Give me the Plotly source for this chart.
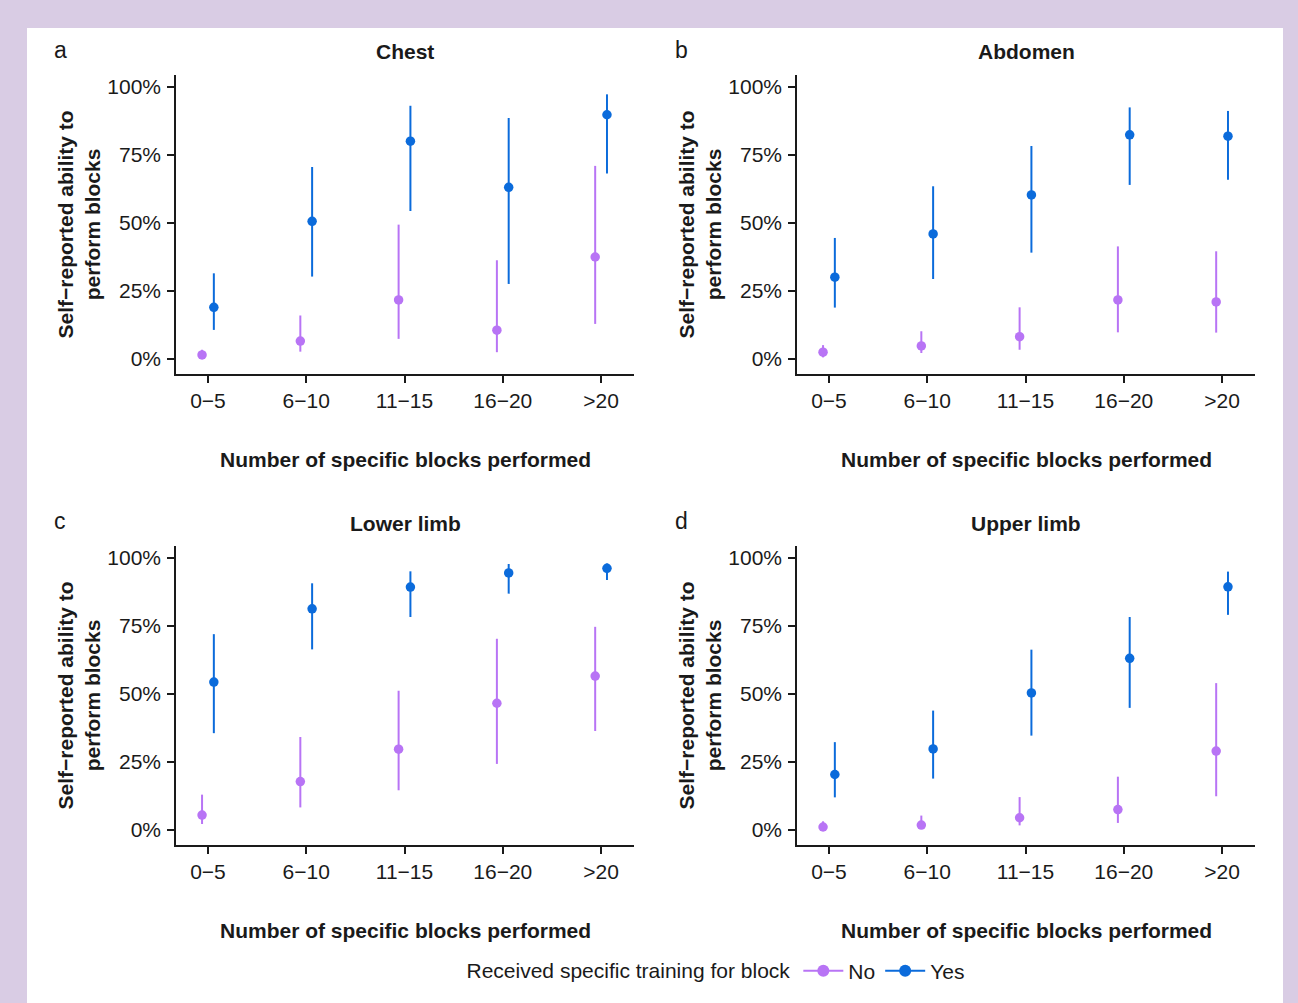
import plotly.graph_objects as go

W, H = 1298, 1003

categories = ["0\u22125", "6\u221210", "11\u221215", "16\u221220", ">20"]
y_ticks = [0, 0.25, 0.5, 0.75, 1.0]
y_tick_labels = ["0%", "25%", "50%", "75%", "100%"]

panel_titles = ["Chest", "Abdomen", "Lower limb", "Upper limb"]
panel_letters = ["a", "b", "c", "d"]

# Chest
chest_no = [0.015, 0.066, 0.217, 0.106, 0.375]
chest_no_lo = [0.002, 0.027, 0.074, 0.025, 0.129]
chest_no_hi = [0.034, 0.160, 0.494, 0.363, 0.710]
chest_yes = [0.190, 0.506, 0.801, 0.631, 0.898]
chest_yes_lo = [0.107, 0.303, 0.544, 0.276, 0.682]
chest_yes_hi = [0.315, 0.706, 0.931, 0.886, 0.973]

# Abdomen
abd_no = [0.025, 0.048, 0.082, 0.217, 0.210]
abd_no_lo = [0.006, 0.022, 0.034, 0.098, 0.097]
abd_no_hi = [0.051, 0.102, 0.190, 0.414, 0.396]
abd_yes = [0.301, 0.460, 0.603, 0.824, 0.819]
abd_yes_lo = [0.189, 0.294, 0.391, 0.640, 0.659]
abd_yes_hi = [0.445, 0.635, 0.783, 0.925, 0.912]

# Lower limb
low_no = [0.055, 0.178, 0.297, 0.466, 0.566]
low_no_lo = [0.022, 0.083, 0.146, 0.243, 0.364]
low_no_hi = [0.130, 0.342, 0.512, 0.703, 0.747]
low_yes = [0.544, 0.813, 0.893, 0.945, 0.962]
low_yes_lo = [0.356, 0.664, 0.783, 0.869, 0.919]
low_yes_hi = [0.720, 0.907, 0.951, 0.978, 0.980]

# Upper limb
up_no = [0.011, 0.018, 0.045, 0.075, 0.290]
up_no_lo = [0.001, 0.006, 0.017, 0.026, 0.124]
up_no_hi = [0.032, 0.053, 0.121, 0.196, 0.540]
up_yes = [0.204, 0.298, 0.504, 0.631, 0.894]
up_yes_lo = [0.120, 0.189, 0.347, 0.449, 0.791]
up_yes_hi = [0.323, 0.439, 0.663, 0.783, 0.950]

panels = [
    (chest_no, chest_no_lo, chest_no_hi, chest_yes, chest_yes_lo, chest_yes_hi),
    (abd_no, abd_no_lo, abd_no_hi, abd_yes, abd_yes_lo, abd_yes_hi),
    (low_no, low_no_lo, low_no_hi, low_yes, low_yes_lo, low_yes_hi),
    (up_no, up_no_lo, up_no_hi, up_yes, up_yes_lo, up_yes_hi),
]

group_names = ["No", "Yes"]
COL_NO = "#B874F5"
COL_YES = "#0B6BDB"
BG = "#D9CCE4"
FONT = "Liberation Sans, Arial, sans-serif"
INK = "#1a1a1a"
FS = 21
dodge = 0.06

# pixel geometry of the panels (left, right, top, bottom)
px_boxes = [
    (176, 634, 75, 374),
    (797, 1255, 75, 374),
    (176, 634, 546, 845),
    (797, 1255, 546, 845),
]


def fx(px):
    return px / W


def fy(py):
    return 1 - py / H


fig = go.Figure()

xpos = list(range(1, len(categories) + 1))
for i, (no, no_lo, no_hi, yes, yes_lo, yes_hi) in enumerate(panels):
    xa = "x" if i == 0 else f"x{i+1}"
    ya = "y" if i == 0 else f"y{i+1}"
    for vals, lo, hi, col, sign in [
        (no, no_lo, no_hi, COL_NO, -1),
        (yes, yes_lo, yes_hi, COL_YES, 1),
    ]:
        fig.add_trace(
            go.Scatter(
                x=[p + sign * dodge for p in xpos],
                y=vals,
                mode="markers",
                marker=dict(color=col, size=9.5),
                error_y=dict(
                    type="data",
                    symmetric=False,
                    array=[h - v for h, v in zip(hi, vals)],
                    arrayminus=[v - l for v, l in zip(vals, lo)],
                    color=col,
                    thickness=2,
                    width=0,
                ),
                xaxis=xa,
                yaxis=ya,
                showlegend=False,
                hoverinfo="skip",
            )
        )

# legend entries
for name, col in zip(group_names, [COL_NO, COL_YES]):
    fig.add_trace(
        go.Scatter(
            x=[None],
            y=[None],
            mode="lines+markers",
            name=name,
            line=dict(color=col, width=2),
            marker=dict(color=col, size=12),
            showlegend=True,
        )
    )

layout = dict(
    width=W,
    height=H,
    autosize=False,
    margin=dict(l=0, r=0, t=0, b=0),
    paper_bgcolor=BG,
    plot_bgcolor="rgba(0,0,0,0)",
    font=dict(family=FONT, size=FS, color=INK),
    showlegend=True,
    legend=dict(
        orientation="h",
        x=fx(717),
        xanchor="center",
        y=fy(971),
        yanchor="middle",
        title=dict(text="Received specific training for block", side="left",
                   font=dict(size=FS, color=INK)),
        font=dict(size=FS, color=INK),
        bgcolor="rgba(0,0,0,0)",
        itemwidth=40,
        tracegroupgap=0,
    ),
    shapes=[
        dict(type="rect", xref="paper", yref="paper", x0=fx(27), x1=fx(1283),
             y0=0, y1=fy(28), fillcolor="white", line=dict(width=0), layer="below"),
    ],
    annotations=[],
)

for i, (l, r, t, b) in enumerate(px_boxes):
    sfx = "" if i == 0 else str(i + 1)
    ya_name = "y" if i == 0 else f"y{i+1}"
    xa_name = "x" if i == 0 else f"x{i+1}"
    y0_px = t + 284
    y1_px = t + 12
    per = (y0_px - y1_px)
    ymin = -(b - y0_px) / per
    ymax = 1 + (y1_px - t) / per
    axis_common = dict(
        showline=True,
        linecolor=INK,
        linewidth=1.5,
        ticks="outside",
        ticklen=7,
        tickwidth=1.5,
        tickcolor=INK,
        showgrid=False,
        zeroline=False,
        tickfont=dict(size=FS, color=INK),
        tickmode="array",
    )
    layout["xaxis" + sfx] = dict(
        domain=[fx(l), fx(r)],
        anchor=ya_name,
        range=[0.675, 5.335],
        tickvals=xpos,
        ticktext=categories,
        **axis_common,
    )
    layout["yaxis" + sfx] = dict(
        domain=[fy(b), fy(t)],
        anchor=xa_name,
        range=[ymin, ymax],
        tickvals=y_ticks,
        ticktext=y_tick_labels,
        ticklabelstandoff=2,
        **axis_common,
    )
    cx = (l + r) / 2
    layout["annotations"] += [
        dict(text=f"<b>{panel_titles[i]}</b>", xref="paper", yref="paper",
             x=fx(cx), y=fy(t - 23), xanchor="center", yanchor="middle",
             showarrow=False, font=dict(size=FS, color=INK)),
        dict(text=panel_letters[i], xref="paper", yref="paper",
             x=fx(l - 116), y=fy(t - 25), xanchor="center", yanchor="middle",
             showarrow=False, font=dict(size=23, color=INK)),
        dict(text="<b>Number of specific blocks performed</b>", xref="paper",
             yref="paper", x=fx(cx), y=fy(b + 85), xanchor="center",
             yanchor="middle", showarrow=False, font=dict(size=FS, color=INK)),
        dict(text="<b>Self\u2212reported ability to<br>perform blocks</b>",
             xref="paper", yref="paper", x=fx(l - 98), y=fy((t + b) / 2),
             xanchor="center", yanchor="middle", textangle=-90,
             showarrow=False, font=dict(size=FS, color=INK)),
    ]

fig.update_layout(**layout)
fig.write_html(
    "out.html",
    config={"displayModeBar": False},
    post_script="document.body.style.margin='0';document.body.style.padding='0';"
                "document.body.style.overflow='hidden';"
                "document.body.style.background='" + BG + "';",
)
